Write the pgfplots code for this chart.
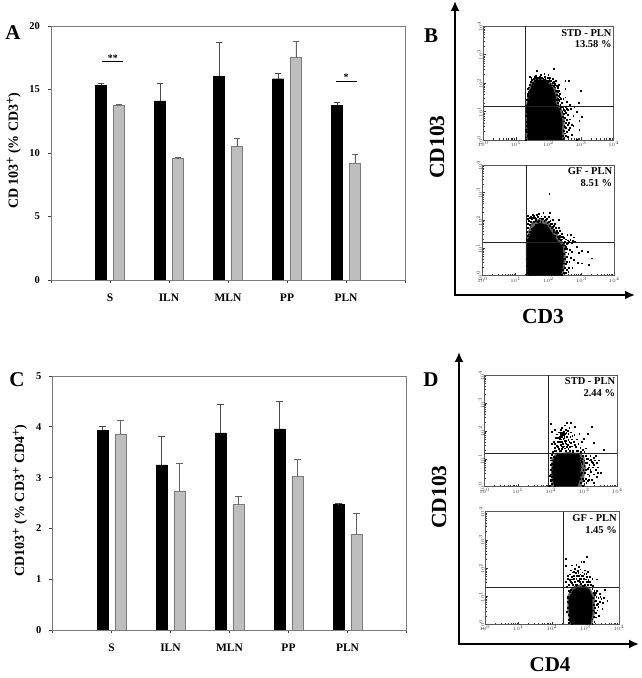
\documentclass[border=0pt]{standalone}
\usepackage{fontspec}
\setmainfont{Liberation Serif}
\usepackage{pgfplots}
\pgfplotsset{compat=1.18}
\usetikzlibrary{arrows.meta}
\definecolor{barg}{HTML}{BEBEBE}
\definecolor{edgeg}{HTML}{7A7A7A}
\definecolor{errk}{HTML}{4A4A4A}
\definecolor{frameg}{HTML}{7C7C7C}
\newcommand{\supplus}{\raisebox{0.6ex}{\fontsize{13}{13}\selectfont +}}
\pgfplotsset{
  barpanel/.style={
    scale only axis, width=354pt, height=254pt, anchor=south west,
    xmin=-1, xmax=5, ymin=0,
    xtick={-1,0,1,2,3,4,5}, xticklabels={,S,ILN,MLN,PP,PLN,},
    xtick pos=bottom, ytick pos=left, tick align=outside,
    major tick length=3.2pt,
    axis line style={frameg,line width=0.7pt},
    every tick/.style={draw=black!75,line width=0.6pt},
    tick label style={font=\fontsize{10.5}{11}\bfseries, /pgf/number format/assume math mode=true},
    xticklabel style={yshift=-7.5pt,font=\fontsize{11.5}{12}\bfseries},
    yticklabel style={xshift=-4.5pt},
    ylabel style={anchor=center,font=\fontsize{14}{15}\bfseries},
  },
  blackbar/.style={ybar, bar width=11pt, bar shift=0pt, fill=black, draw=black,
    error bars/.cd, y dir=plus, y explicit,
    error bar style={errk,line width=0.7pt},
    error mark options={rotate=90,mark size=3.3pt,errk,line width=0.7pt}},
  graybar/.style={ybar, bar width=11pt, bar shift=0pt, fill=barg, draw=edgeg, line width=0.7pt,
    error bars/.cd, y dir=plus, y explicit,
    error bar style={edgeg!80!black,line width=0.7pt},
    error mark options={rotate=90,mark size=3.3pt,edgeg!80!black,line width=0.7pt}},
  flow/.style={
    scale only axis, anchor=south west, xmin=0, xmax=4, ymin=0, ymax=4,
    xtick={0,1,2,3,4}, ytick={0,1,2,3,4},
    xticklabels={$10^0$,$10^1$,$10^2$,$10^3$,$10^4$},
    yticklabels={$10^0$,$10^1$,$10^2$,$10^3$,$10^4$},
    minor xtick={.30,.48,.60,.70,.78,.85,.90,.95,1.30,1.48,1.60,1.70,1.78,1.85,1.90,1.95,2.30,2.48,2.60,2.70,2.78,2.85,2.90,2.95,3.30,3.48,3.60,3.70,3.78,3.85,3.90,3.95},
    minor ytick={.30,.48,.60,.70,.78,.85,.90,.95,1.30,1.48,1.60,1.70,1.78,1.85,1.90,1.95,2.30,2.48,2.60,2.70,2.78,2.85,2.90,2.95,3.30,3.48,3.60,3.70,3.78,3.85,3.90,3.95},
    xtick pos=bottom, ytick pos=left, tick align=inside,
    major tick length=2.6pt, minor tick length=1.5pt,
    every tick/.style={draw=black!80,line width=0.5pt},
    axis line style={black!65,line width=0.9pt},
    tick label style={font=\fontsize{5}{5}\selectfont,text=black!75,inner sep=0.5pt},
    yticklabel style={rotate=90,anchor=south,xshift=-0.5pt},
    xticklabel style={yshift=-0.5pt},
  },
  core/.style={fill=black,draw=black,line width=0.3pt},
  halo/.style={fill=black!62,draw=none},
  dots/.style={only marks,mark=square*,mark size=0.42pt,black,mark options={draw=none,fill=black!85}},
  gate/.style={black!85,line width=0.9pt},
}
\newcommand{\flowlabel}[2]{\node[anchor=north east,align=right,inner sep=0pt,font=\fontsize{10.5}{11.5}\bfseries] at (rel axis cs:0.985,0.975) {#1\\#2};}
\begin{document}
\begin{tikzpicture}[x=1pt,y=1pt]
\useasboundingbox (0,0) rectangle (642,678);

% ---------- A
\begin{axis}[barpanel, at={(51pt,398pt)}, ymax=20, ytick={0,5,10,15,20},
  ylabel={CD\,103\supplus\ (\% CD3\supplus)},
  ylabel style={at={(axis description cs:-0.105,0.51)}}]
\addplot[blackbar] coordinates {(-0.152,15.35) +- (0,0.15) (0.848,14.1) +- (0,1.35) (1.848,16.05) +- (0,2.65) (2.848,15.85) +- (0,0.4) (3.848,13.75) +- (0,0.2)};
\addplot[graybar] coordinates {(0.152,13.75) +- (0,0.06) (1.152,9.55) +- (0,0.08) (2.152,10.5) +- (0,0.65) (3.152,17.5) +- (0,1.3) (4.152,9.2) +- (0,0.7)};
\addplot[black,line width=0.9pt] coordinates {(-0.13,17.2) (0.225,17.2)};
\addplot[black,line width=0.9pt] coordinates {(3.83,15.67) (4.18,15.67)};
\node[font=\fontsize{10}{10}\bfseries,inner sep=0pt] at (axis cs:0.05,17.5) {**};
\node[font=\fontsize{10}{10}\bfseries,inner sep=0pt] at (axis cs:4.0,15.98) {*};
\end{axis}

% ---------- C
\begin{axis}[barpanel, at={(52.5pt,48pt)}, ymax=5, ytick={0,1,2,3,4,5},
  ylabel={CD103\supplus\ (\% CD3\supplus\ CD4\supplus)},
  ylabel style={at={(axis description cs:-0.092,0.51)}}]
\addplot[blackbar] coordinates {(-0.152,3.93) +- (0,0.07) (0.848,3.25) +- (0,0.57) (1.848,3.88) +- (0,0.56) (2.848,3.96) +- (0,0.55) (3.848,2.47) +- (0,0.03)};
\addplot[graybar] coordinates {(0.152,3.86) +- (0,0.27) (1.152,2.72) +- (0,0.56) (2.152,2.47) +- (0,0.16) (3.152,3.02) +- (0,0.33) (4.152,1.88) +- (0,0.42)};
\end{axis}

% ---------- B upper
\begin{axis}[flow, at={(483.3pt,538pt)}, width=130.4pt, height=114pt]
\addplot[halo] coordinates {(1.31,0)(1.31,1.2)(1.36,1.6)(1.44,1.98)(1.6,2.15)(1.95,2.12)(2.2,1.9)(2.3,1.55)(2.32,1.25)(2.43,1.05)(2.5,.7)(2.48,0)} --cycle;
\addplot[core] coordinates {(1.37,0)(1.35,.5)(1.34,.9)(1.32,1.15)(1.37,1.35)(1.42,1.64)(1.49,1.92)(1.66,2.09)(1.92,2.05)(2.13,1.83)(2.22,1.52)(2.22,1.29)(2.34,1.05)(2.42,.70)(2.41,0)} --cycle;
\addplot[dots] coordinates {
(1.64,2.43)(2.15,2.49)(1.77,2.28)(1.87,2.32)(1.99,2.28)(1.43,2.22)(2.51,2.08)(2.63,2.08)(2.99,1.73)(2.51,1.81)(2.51,1.5)(2.57,1.35)(2.93,1.31)(2.79,1.17)(2.64,1.23)(2.86,.99)(2.76,.84)(3.02,.82)(2.94,.67)(2.66,.73)(2.76,.49)(2.61,.35)(2.45,.06)(2.86,.02)(2.94,.37)(2.5,.47)(2.58,.88)(2.47,1.05)(2.52,1.17)
(1.42,1.95)(1.45,2.05)(1.40,1.85)(1.38,1.7)(1.35,1.55)(1.33,1.42)(1.48,2.12)(1.52,2.02)(1.55,2.15)(1.58,2.08)(1.6,2.2)(1.64,2.12)(1.68,2.18)(1.7,2.1)(1.74,2.22)(1.78,2.1)(1.82,2.17)(1.85,2.08)(1.9,2.15)(1.95,2.1)(1.98,2.03)(2.02,2.12)(2.05,1.98)(2.08,2.08)(2.1,1.92)(2.14,2.0)(2.18,1.95)(2.2,1.85)(2.24,1.9)(2.25,1.75)(2.28,1.68)(2.24,1.6)(2.3,1.55)(2.27,1.45)(2.33,1.38)(2.28,1.3)(2.36,1.25)(2.4,1.17)(2.34,1.1)(2.42,1.0)(2.46,.92)(2.44,.82)(2.5,.78)(2.46,.66)(2.52,.6)(2.48,.5)(2.54,.42)(2.46,.34)(2.5,.24)(2.44,.16)(2.48,.08)(2.42,.03)
(1.31,.1)(1.34,.3)(1.32,.5)(1.36,.7)(1.31,.85)(1.34,1.0)(1.31,.02)(1.37,.15)(1.33,.65)(1.38,.4)(1.31,1.22)(1.35,1.28)(1.31,.35)(1.41,1.75)(1.36,1.62)
(2.31,.9)(2.37,1.18)(2.29,1.22)(2.26,1.4)(2.22,1.72)(2.16,1.9)(1.96,2.06)(1.72,2.12)(1.52,1.95)
(1.37,1.8)(1.44,1.78)(1.47,2.18)(1.5,1.98)(1.56,1.98)(1.57,2.22)(1.62,2.25)(1.66,2.08)(1.72,2.18)(1.75,2.3)(1.8,2.2)(1.84,2.12)(1.88,2.22)(1.92,2.08)(1.97,2.18)(2.0,2.08)(2.04,2.2)(2.07,1.92)(2.12,2.14)(2.16,2.05)(2.2,1.98)(2.22,2.08)(2.27,1.82)(2.3,1.95)(2.32,1.72)(2.35,1.62)(2.38,1.45)(2.41,1.32)(2.3,1.42)(2.45,1.12)(2.49,1.02)(2.39,1.3)(2.53,.95)(2.55,.72)(2.58,.55)(2.56,.28)(2.6,.12)(2.53,.15)(2.35,1.5)(2.28,1.88)(2.6,1.05)(2.68,1.1)(2.62,.62)(2.7,.55)(2.72,.2)(2.66,.42)(2.57,1.1)(2.45,1.45)
};
\addplot[gate] coordinates {(1.3,0)(1.3,4)};
\addplot[gate] coordinates {(0,1.17)(4,1.17)};
\flowlabel{STD - PLN}{13.58 \%}
\end{axis}

% ---------- B lower
\begin{axis}[flow, at={(482.7pt,402.3pt)}, width=131.6pt, height=110.7pt]
\addplot[halo] coordinates {(1.32,0)(1.31,1.25)(1.38,1.6)(1.5,1.95)(1.7,2.05)(1.98,1.95)(2.2,1.65)(2.38,1.32)(2.5,1.12)(2.53,.6)(2.45,0)} --cycle;
\addplot[core] coordinates {(1.37,0)(1.34,.45)(1.32,1.17)(1.42,1.41)(1.52,1.73)(1.72,1.9)(1.95,1.83)(2.11,1.54)(2.28,1.24)(2.43,1.05)(2.46,.57)(2.38,0)} --cycle;
\addplot[dots] coordinates {
(1.69,2.25)(1.84,2.28)(2.03,2.28)(1.52,2.19)(1.36,2.16)(2.3,2.01)(2.2,1.89)(2.67,1.47)(2.76,1.39)(2.57,1.47)(2.5,1.23)(2.91,.84)(3.18,.87)(2.71,.87)(2.63,.51)(2.88,.47)(3.01,.45)(3.21,.41)(2.76,.57)(2.65,.93)(2.53,1.05)(2.35,1.41)(2.4,1.53)(2.55,1.17)(2.02,2.97)(3.31,.63)
(1.33,1.3)(1.36,1.45)(1.34,1.6)(1.38,1.72)(1.36,1.88)(1.41,2.0)(1.44,1.85)(1.47,1.95)(1.42,1.6)(1.4,1.5)(1.5,2.05)(1.55,1.95)(1.58,2.1)(1.62,2.0)(1.66,2.12)(1.7,2.0)(1.75,2.08)(1.78,1.95)(1.83,2.05)(1.87,1.98)(1.92,2.02)(1.96,1.92)(2.0,1.95)(2.03,1.82)(2.07,1.88)(2.1,1.72)(2.14,1.78)(2.17,1.6)(2.22,1.55)(2.26,1.62)(2.28,1.42)(2.33,1.46)(2.36,1.3)(2.41,1.32)(2.46,1.2)(2.43,1.12)(2.5,1.1)(2.58,1.28)(2.62,1.22)(2.7,1.2)(2.48,.98)(2.52,.85)(2.47,.78)(2.5,.62)(2.47,.45)(2.5,.3)(2.43,.22)(2.45,.12)(2.4,.04)(2.56,.68)(2.6,.15)(2.3,1.34)(2.2,1.45)(2.15,1.65)(1.67,1.95)(1.6,1.85)(1.48,1.7)
(1.32,.05)(1.34,.2)(1.37,.12)(1.33,.35)(1.36,.3)(1.42,.08)(1.45,.02)(1.34,.6)(1.33,.85)
(1.38,2.05)(1.43,2.1)(1.47,2.12)(1.52,2.1)(1.56,2.18)(1.6,2.05)(1.63,2.2)(1.72,2.08)(1.78,2.15)(1.8,2.05)(1.88,2.12)(1.95,2.05)(2.0,2.12)(2.05,1.98)(2.1,1.88)(2.12,2.02)(2.17,1.82)(2.22,1.72)(2.27,1.55)(2.3,1.72)(2.34,1.62)(2.38,1.4)(2.43,1.42)(2.47,1.38)(2.52,1.32)(2.58,1.18)(2.66,1.3)(2.74,1.25)(2.8,1.22)(2.55,.98)(2.6,.8)(2.56,.52)(2.62,.3)(2.52,.42)(2.55,.22)(2.68,.65)(2.72,.3)(2.52,.1)(2.86,1.05)(3.0,.9)
};
\addplot[gate] coordinates {(1.315,0)(1.315,4)};
\addplot[gate] coordinates {(0,1.2)(4,1.2)};
\flowlabel{GF - PLN}{8.51 \%}
\end{axis}

% ---------- D upper
\begin{axis}[flow, at={(484.7pt,191.3pt)}, width=132.6pt, height=111.7pt]
\addplot[halo] coordinates {(2.02,0)(2.0,.5)(2.02,1.0)(2.15,1.22)(2.85,1.22)(3.0,1.1)(3.05,.7)(3.0,.3)(2.9,0)} --cycle;
\addplot[core] coordinates {(2.1,.02)(2.04,.48)(2.07,.96)(2.2,1.18)(2.52,1.22)(2.84,1.18)(2.9,.78)(2.88,.36)(2.8,.02)} --cycle;
\addplot[dots] coordinates {
(2.05,1.25)(2.1,1.4)(2.02,1.55)(2.15,1.3)(2.2,1.42)(2.08,1.62)(2.14,1.75)(2.25,1.28)(2.28,1.5)(2.2,1.62)(2.3,1.7)(2.25,1.8)(2.18,1.88)(2.33,1.35)(2.36,1.55)(2.4,1.75)(2.35,1.85)(2.28,1.93)(2.42,1.9)(2.45,1.65)(2.38,1.98)(2.48,1.8)(2.5,1.5)(2.44,1.3)(2.52,1.35)(2.55,1.62)(2.58,1.78)(2.5,2.0)(2.6,1.95)(2.55,2.12)(2.62,1.45)(2.65,1.3)(2.68,1.6)(2.7,1.85)(2.72,2.15)(2.75,1.42)(2.78,1.7)(2.8,1.28)(2.82,1.55)(2.85,1.9)(2.88,1.4)(2.92,1.62)(2.95,1.32)(2.33,2.12)(2.42,2.2)(2.3,2.05)(2.6,2.28)(2.48,2.3)(2.12,2.05)(2.03,1.98)(2.0,2.25)(2.1,1.3)(2.32,1.45)(2.22,1.95)(2.37,1.72)(2.43,1.58)(2.26,1.6)(2.34,1.78)(2.4,1.82)(2.46,1.92)(2.3,1.85)(2.38,1.88)(2.27,1.72)(2.21,1.75)(2.31,1.62)(2.39,1.45)(2.47,1.42)(2.56,1.28)(2.62,1.7)(2.66,1.25)
(3.23,2.15)(3.1,1.91)(3.28,1.58)(2.98,1.73)(3.6,1.31)(3.05,1.38)
(2.88,1.05)(2.92,.9)(2.9,.7)(2.95,1.1)(3.0,.95)(3.0,.75)(2.92,.5)(2.95,.3)(2.9,.15)(3.02,.5)(3.05,1.12)(3.08,.85)(3.1,.65)(3.12,1.0)(3.15,.8)(3.18,1.1)(3.2,.55)(3.22,.9)(3.25,.7)(3.28,1.05)(3.3,.8)(3.33,.95)(3.35,.6)(3.38,.85)(3.42,.7)(3.05,.3)(3.1,.2)(3.15,.4)(3.0,.1)(2.95,.05)(3.22,.25)(3.28,.15)(3.38,.35)(3.5,.5)(2.93,1.0)(2.97,.62)(3.03,.85)(3.07,1.0)(3.13,.7)(3.17,.95)(2.89,.42)(2.9,.95)(2.85,1.12)(2.87,.28)
(1.95,.05)(1.98,.2)(1.96,.4)(2.0,.6)(1.98,.8)(2.0,1.05)(2.03,.1)(2.02,.35)(2.05,.7)(2.05,.95)(2.1,.02)(2.0,.45)(2.03,1.15)(2.08,1.08)
(2.12,1.55)(2.17,1.48)(2.24,1.36)(2.3,1.28)(2.36,1.42)(2.41,1.38)(2.46,1.55)(2.52,1.68)(2.42,1.66)(2.34,1.62)(2.29,1.78)(2.36,1.92)(2.44,2.05)(2.52,1.9)(2.57,1.42)(2.6,1.58)(2.64,1.82)(2.72,1.5)(2.76,1.3)(2.9,1.24)(3.0,1.25)(3.12,1.2)(3.05,.6)(3.18,.62)(3.2,.98)(3.25,.85)(3.1,.45)(3.14,.25)(2.98,.22)(3.06,.15)(2.94,.82)(3.3,.45)(3.42,.5)(3.45,.95)(3.36,1.1)(2.0,.25)(2.04,.55)(2.06,.25)(1.99,.95)(2.02,.82)
};
\addplot[gate] coordinates {(1.92,0)(1.92,4)};
\addplot[gate] coordinates {(0,1.2)(4,1.2)};
\flowlabel{STD - PLN}{2.44 \%}
\end{axis}

% ---------- D lower
\begin{axis}[flow, at={(485pt,53.7pt)}, width=134pt, height=112.6pt]
\addplot[halo] coordinates {(2.52,0)(2.46,.5)(2.46,1.0)(2.58,1.32)(2.84,1.42)(3.12,1.32)(3.28,1.0)(3.28,.4)(3.2,0)} --cycle;
\addplot[core] coordinates {(2.57,0)(2.51,.51)(2.5,.92)(2.63,1.22)(2.84,1.33)(3.1,1.25)(3.2,.98)(3.2,.39)(3.15,0)} --cycle;
\addplot[dots] coordinates {
(3.04,2.4)(2.87,2.23)(2.94,2.23)(2.41,2.34)(2.41,2.07)(3.33,1.6)(3.58,1.22)(3.55,.95)(2.6,2.1)(2.72,2.12)(2.8,2.05)(2.68,1.98)(2.55,1.92)(2.48,1.72)(2.42,1.5)(2.62,1.85)(2.7,1.82)(2.76,1.9)(2.84,1.96)(2.9,1.85)(2.98,1.92)(3.06,1.88)(3.12,1.7)(3.2,1.62)(2.58,1.68)(2.66,1.72)(2.72,1.62)(2.8,1.72)(2.86,1.62)(2.92,1.72)(2.98,1.6)(3.04,1.7)(3.1,1.5)(3.16,1.42)(2.5,1.42)(2.56,1.52)(2.62,1.4)(2.68,1.5)(2.74,1.42)(2.8,1.54)(2.86,1.44)(2.92,1.52)(2.98,1.42)(3.04,1.5)(2.45,1.34)(2.58,1.32)(2.72,1.36)(2.9,1.36)(3.12,1.32)(3.22,1.36)(2.64,1.62)(2.76,1.56)(2.84,1.78)(2.96,1.8)
(3.2,1.25)(3.24,1.12)(3.22,.95)(3.27,1.05)(3.3,.85)(3.24,.7)(3.28,.6)(3.22,.5)(3.3,.4)(3.24,.28)(3.2,.18)(3.26,.1)(3.2,.03)(3.34,1.2)(3.38,.95)(3.42,1.1)(3.36,.72)(3.42,.8)(3.47,.92)(3.35,.5)(3.4,.3)(3.5,.55)(3.65,.85)
(2.5,.05)(2.53,.2)(2.49,.35)(2.47,.6)(2.46,.8)(2.48,1.0)(2.52,1.15)(2.56,.12)(2.55,1.22)(2.58,.03)(2.5,.75)(2.54,.3)
(2.46,1.62)(2.52,1.58)(2.54,1.78)(2.6,1.6)(2.66,1.88)(2.74,1.72)(2.78,1.82)(2.82,1.62)(2.88,1.72)(2.94,1.62)(3.02,1.6)(3.08,1.58)(3.02,1.8)(3.14,1.52)(2.6,1.48)(2.7,1.42)(2.83,1.5)(2.95,1.38)(3.07,1.4)(3.2,1.28)(3.26,1.2)(3.3,1.12)(3.32,.98)(3.34,.7)(3.27,.82)(3.3,.25)(3.26,.45)(3.38,.62)(3.44,.98)(3.52,.78)(2.49,.15)(2.45,.45)(2.47,.95)(2.5,1.2)(2.52,.65)
};
\addplot[gate] coordinates {(2.33,0)(2.33,4)};
\addplot[gate] coordinates {(0,1.3)(4,1.3)};
\flowlabel{GF - PLN}{1.45 \%}
\end{axis}

% ---------- arrows
\draw[line width=1.8pt,-{Latex[length=10pt,width=9pt]}] (455,383) -- (455,677);
\draw[line width=1.8pt,-{Latex[length=10pt,width=9pt]}] (454,383) -- (635,383);
\draw[line width=1.8pt,-{Latex[length=10pt,width=9pt]}] (459,34) -- (459,326);
\draw[line width=1.8pt,-{Latex[length=10pt,width=9pt]}] (458,34) -- (639,34);

% ---------- panel letters and flow axis names
\node[font=\fontsize{21}{21}\bfseries,inner sep=0pt] at (13,645) {A};
\node[font=\fontsize{21}{21}\bfseries,inner sep=0pt] at (431,642) {B};
\node[font=\fontsize{21}{21}\bfseries,inner sep=0pt] at (17,298) {C};
\node[font=\fontsize{21}{21}\bfseries,inner sep=0pt] at (431,298) {D};
\node[font=\fontsize{21.5}{22}\bfseries,inner sep=0pt,rotate=90] at (437,531) {CD103};
\node[font=\fontsize{21.5}{22}\bfseries,inner sep=0pt] at (543,362) {CD3};
\node[font=\fontsize{21.5}{22}\bfseries,inner sep=0pt,rotate=90] at (439,181) {CD103};
\node[font=\fontsize{21}{22}\bfseries,inner sep=0pt] at (550,13) {CD4};
\end{tikzpicture}
\end{document}
